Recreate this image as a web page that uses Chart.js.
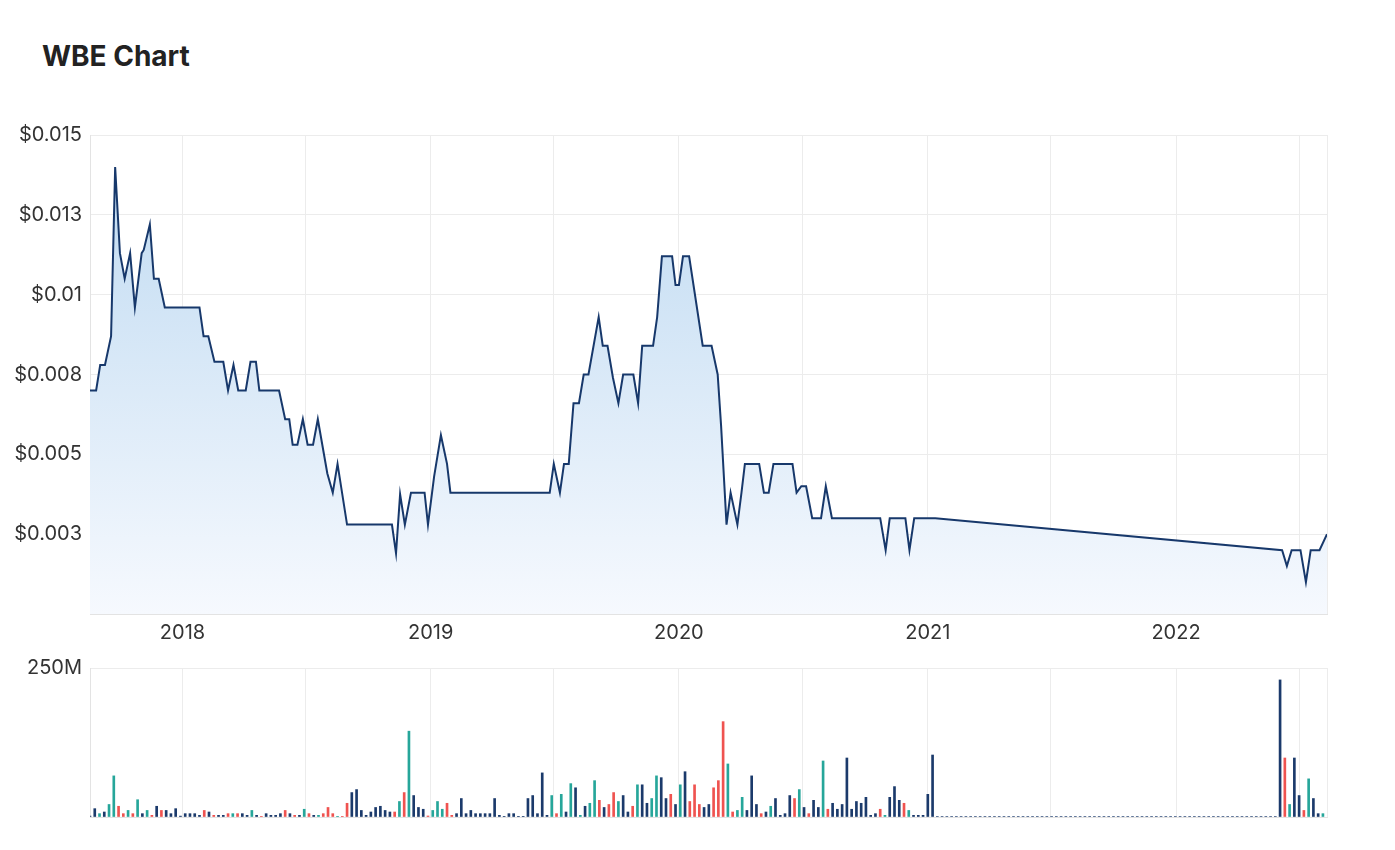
<!DOCTYPE html>
<html>
<head>
<meta charset="utf-8">
<title>WBE Chart</title>
<script src="https://cdn.jsdelivr.net/npm/chart.js@4.4.1/dist/chart.umd.min.js"></script>
<style>
  body { margin: 0; background: #fff; font-family: Inter, "Noto Sans", sans-serif; }
  .page { position: relative; width: 1395px; height: 850px; }
  .title { position: absolute; left: 42px; top: 42px; font-size: 28px; line-height: 28px; font-weight: 700; color: #222; }
  .priceBox { position: absolute; left: 0; top: 100px; }
  .volBox { position: absolute; left: 0; top: 640px; }
</style>
</head>
<body>
<div class="page">
  <div class="title">WBE Chart</div>
  <div class="priceBox"><canvas id="price" width="1395" height="560"></canvas></div>
  <div class="volBox"><canvas id="volume" width="1395" height="200"></canvas></div>
</div>
<script>
// weekly close, turning points
const priceDates = [
  '2017-08-18', '2017-08-27', '2017-09-02', '2017-09-09', '2017-09-18', '2017-09-24', '2017-10-01', '2017-10-08',
  '2017-10-16', '2017-10-23', '2017-11-02', '2017-11-05', '2017-11-14', '2017-11-20', '2017-11-27', '2017-12-06',
  '2018-01-26', '2018-02-01', '2018-02-08', '2018-02-17', '2018-03-02', '2018-03-09', '2018-03-17', '2018-03-24',
  '2018-04-04', '2018-04-11', '2018-04-19', '2018-04-24', '2018-05-23', '2018-06-01', '2018-06-07', '2018-06-12',
  '2018-06-19', '2018-06-27', '2018-07-04', '2018-07-12', '2018-07-19', '2018-08-02', '2018-08-10', '2018-08-17',
  '2018-08-31', '2018-11-05', '2018-11-11', '2018-11-17', '2018-11-24', '2018-12-03', '2018-12-23', '2018-12-28',
  '2019-01-06', '2019-01-16', '2019-01-25', '2019-01-30', '2019-06-25', '2019-07-01', '2019-07-10', '2019-07-16',
  '2019-07-23', '2019-07-30', '2019-08-07', '2019-08-14', '2019-08-21', '2019-09-05', '2019-09-11', '2019-09-18',
  '2019-09-26', '2019-10-04', '2019-10-11', '2019-10-26', '2019-11-02', '2019-11-08', '2019-11-24', '2019-11-30',
  '2019-12-07', '2019-12-22', '2019-12-27', '2020-01-01', '2020-01-07', '2020-01-16', '2020-02-05', '2020-02-18',
  '2020-02-27', '2020-03-03', '2020-03-11', '2020-03-17', '2020-03-27', '2020-04-02', '2020-04-07', '2020-04-28',
  '2020-05-05', '2020-05-12', '2020-05-19', '2020-06-16', '2020-06-22', '2020-06-29', '2020-07-06', '2020-07-15',
  '2020-07-28', '2020-08-04', '2020-08-13', '2020-10-23', '2020-10-31', '2020-11-06', '2020-11-29', '2020-12-05',
  '2020-12-12', '2021-01-12', '2022-06-06', '2022-06-13', '2022-06-20', '2022-07-03', '2022-07-11', '2022-07-18',
  '2022-07-31', '2022-08-11'
];
const priceValues = [
  0.0070, 0.0070, 0.0078, 0.0078, 0.0087, 0.0140, 0.0113, 0.0105,
  0.0113, 0.0096, 0.0113, 0.0114, 0.0122, 0.0105, 0.0105, 0.0096,
  0.0096, 0.0087, 0.0087, 0.0079, 0.0079, 0.0070, 0.0078, 0.0070,
  0.0070, 0.0079, 0.0079, 0.0070, 0.0070, 0.0061, 0.0061, 0.0053,
  0.0053, 0.0061, 0.0053, 0.0053, 0.0061, 0.0044, 0.0038, 0.0047,
  0.0028, 0.0028, 0.0019, 0.00375, 0.0028, 0.0038, 0.0038, 0.0028,
  0.0043, 0.0056, 0.0047, 0.0038, 0.0038, 0.0047, 0.0038, 0.0047,
  0.0047, 0.0066, 0.0066, 0.0075, 0.0075, 0.0093, 0.0084, 0.0084,
  0.0074, 0.0066, 0.0075, 0.0075, 0.0066, 0.0084, 0.0084, 0.0093,
  0.0112, 0.0112, 0.0103, 0.0103, 0.0112, 0.0112, 0.0084, 0.0084,
  0.0075, 0.0059, 0.0028, 0.0038, 0.0028, 0.0038, 0.0047, 0.0047,
  0.0038, 0.0038, 0.0047, 0.0047, 0.0038, 0.0040, 0.0040, 0.0030,
  0.0030, 0.0040, 0.0030, 0.0030, 0.0020, 0.0030, 0.0030, 0.0020,
  0.0030, 0.0030, 0.0020, 0.0015, 0.0020, 0.0020, 0.0010, 0.0020,
  0.0020, 0.0025
];

// weekly volume in millions, first bar week of 2017-08-18
const volumeStart = '2017-08-18';
const volumeValues = [
  1.7, 14, 5.6, 8.4, 21, 69, 18, 5.6, 11, 5.6,
  29, 5.6, 11, 2.8, 18, 11, 11, 5.6, 14, 1.5,
  5.6, 5.6, 5.6, 2.8, 11, 8.4, 2.8, 2.8, 2.8, 5.6,
  5.6, 5.6, 5.6, 2.8, 11, 2.8, 1.1, 5.6, 2.8, 2.8,
  5.6, 11, 5.6, 2.8, 2.8, 13, 5.6, 2.8, 2.8, 5.6,
  16, 5.6, 1.1, 1.1, 23, 41, 46, 11, 2.8, 8.4,
  16, 18, 11, 8.4, 8.4, 26, 41, 144, 36, 16,
  13, 1.7, 11, 26, 13, 23, 2.8, 5.6, 31, 5.6,
  11, 5.6, 5.6, 5.6, 5.6, 31, 2.8, 1.1, 5.6, 5.6,
  1.1, 1.1, 31, 36, 5.6, 74, 2.8, 36, 5.6, 38,
  8.4, 56, 49, 2.8, 18, 23, 61, 28, 16, 21,
  41, 26, 36, 8.4, 18, 54, 54, 23, 31,
  69, 66, 31, 38, 21, 54, 76, 26, 54, 21,
  16, 21, 49, 61, 160, 89, 8.4, 11, 33, 11,
  69, 21, 5.6, 8.4, 18, 31, 2.8, 5.6, 36, 31,
  46, 16, 5.6, 28, 16, 94, 13, 23, 13, 21,
  99, 13, 26, 23, 33, 2.8, 5.6, 13, 2.8, 33,
  51, 28, 23, 11, 2.8, 2.8, 2.8, 38, 104,
  0.8, 0.8, 0.8, 0.8, 0.8, 0.8, 0.8, 0.8, 0.8, 0.8, 0.8, 0.8,
  0.8, 0.8, 0.8, 0.8, 0.8, 0.8, 0.8, 0.8, 0.8, 0.8, 0.8, 0.8,
  0.8, 0.8, 0.8, 0.8, 0.8, 0.8, 0.8, 0.8, 0.8, 0.8, 0.8, 0.8,
  0.8, 0.8, 0.8, 0.8, 0.8, 0.8, 0.8, 0.8, 0.8, 0.8, 0.8, 0.8,
  0.8, 0.8, 0.8, 0.8, 0.8, 0.8, 0.8, 0.8, 0.8, 0.8, 0.8, 0.8,
  0.8, 0.8, 0.8, 0.8, 0.8, 0.8, 0.8, 0.8, 0.8, 0.8, 0.8, 0.8,
  230, 99, 21, 99, 36, 11, 64, 31, 5.6, 5.6
];
// n = unchanged, g = up, r = down
const volumeMoves = [
  'n','n','g','n','g','g','r','r','g','r',
  'g','n','g','r','n','r','n','n','n','n',
  'n','n','n','n','r','n','r','n','n','r',
  'g','r','n','n','g','n','r','n','n','n',
  'n','r','n','r','n','g','r','n','g','r',
  'r','r','g','r','r','n','n','n','n','n',
  'n','n','n','n','r','g','r','g','n','n',
  'n','r','g','g','g','r','r','n','n','n',
  'n','n','n','n','n','n','n','n','n','n',
  'n','n','n','n','n','n','n','g','r','g',
  'n','g','n','g','n','g','g','r','n','r',
  'r','g','n','n','r','g','n','n','g',
  'g','n','n','r','n','g','n','r','r','r',
  'n','n','r','r','r','g','r','g','g','n',
  'n','n','r','n','g','n','n','n','n','r',
  'g','n','r','n','n','g','r','n','n','n',
  'n','n','n','n','n','n','n','r','g','n',
  'n','n','r','g','n','n','n','n','n',
  'n','n','n','n','n','n','n','n','n','n','n','n',
  'n','n','n','n','n','n','n','n','n','n','n','n',
  'n','n','n','n','n','n','n','n','n','n','n','n',
  'n','n','n','n','n','n','n','n','n','n','n','n',
  'n','n','n','n','n','n','n','n','n','n','n','n',
  'n','n','n','n','n','n','n','n','n','n','n','n',
  'n','r','g','n','n','r','g','n','n','g'
];

const xMin = Date.parse('2017-08-18');
const xMax = Date.parse('2022-08-11');
const gridDates = [
  '2018-01-01', '2018-07-01', '2019-01-01', '2019-07-01', '2020-01-01',
  '2020-07-01', '2021-01-01', '2021-07-01', '2022-01-01', '2022-07-01'
];
const priceTicks = [0, 0.0025, 0.005, 0.0075, 0.01, 0.0125, 0.015];

const moveColors = { n: '#1b3a6b', g: '#26a69a', r: '#ef5350' };
const gridColor = '#ececec';
const tickFont = { family: 'Inter', size: 20 };
const DAY = 86400000;

function dateTicks(scale) {
  const t = gridDates.map(d => ({ value: Date.parse(d) }));
  t.push({ value: xMax });
  scale.ticks = t;
}

function yearLabel(value) {
  const d = new Date(value);
  if (value !== xMax && d.getUTCMonth() === 0) return String(d.getUTCFullYear());
  return '';
}

const pricePoints = priceDates.map((d, i) => ({ x: Date.parse(d), y: priceValues[i] }));

new Chart(document.getElementById('price'), {
  type: 'line',
  data: {
    datasets: [{
      data: pricePoints,
      borderColor: '#17386b',
      borderWidth: 2,
      pointRadius: 0,
      tension: 0,
      fill: 'origin',
      backgroundColor: (ctx) => {
        const area = ctx.chart.chartArea;
        if (!area) return 'rgba(190,217,240,0.6)';
        const g = ctx.chart.ctx.createLinearGradient(0, area.top, 0, area.bottom);
        g.addColorStop(0, '#bdd9f1');
        g.addColorStop(1, '#f6f9fe');
        return g;
      },
    }],
  },
  options: {
    responsive: false,
    animation: false,
    layout: { padding: { top: 35, right: 68, bottom: 6, left: 0 } },
    plugins: { legend: { display: false }, tooltip: { enabled: false } },
    scales: {
      x: {
        type: 'linear',
        min: xMin,
        max: xMax,
        afterBuildTicks: dateTicks,
        afterFit: (s) => { s.height = 40; },
        grid: { color: gridColor, drawTicks: false },
        border: { color: '#e3e3e3' },
        ticks: { callback: yearLabel, font: tickFont, color: '#333', padding: 7, maxRotation: 0, autoSkip: false },
      },
      y: {
        min: 0,
        max: 0.015,
        afterBuildTicks: (s) => { s.ticks = priceTicks.map(v => ({ value: v })); },
        afterFit: (s) => { s.width = 90; },
        grid: { color: gridColor, drawTicks: false },
        border: { color: '#e3e3e3' },
        ticks: {
          font: tickFont,
          color: '#333',
          padding: 8,
          callback: (v) => v === 0 ? '' : '$' + Math.round(v * 1000 + 1e-9) / 1000,
        },
      },
    },
  },
});

const volumeBars = volumeValues.map((v, i) => ({ x: Date.parse(volumeStart) + i * 7 * DAY, y: v }));

new Chart(document.getElementById('volume'), {
  type: 'bar',
  data: {
    datasets: [{
      data: volumeBars,
      backgroundColor: volumeMoves.map(m => moveColors[m]),
      barThickness: 2,
    }],
  },
  options: {
    responsive: false,
    animation: false,
    layout: { padding: { top: 28, right: 68, bottom: 23, left: 0 } },
    plugins: { legend: { display: false }, tooltip: { enabled: false } },
    scales: {
      x: {
        type: 'linear',
        min: xMin,
        max: xMax,
        offset: false,
        afterBuildTicks: dateTicks,
        afterFit: (s) => { s.height = 0; },
        grid: { color: gridColor, drawTicks: false, offset: false },
        border: { color: '#e3e3e3' },
        ticks: { display: false },
      },
      y: {
        min: 0,
        max: 250,
        afterBuildTicks: (s) => { s.ticks = [{ value: 0 }, { value: 250 }]; },
        afterFit: (s) => { s.width = 90; },
        grid: { color: gridColor, drawTicks: false },
        border: { color: '#e3e3e3' },
        ticks: { font: tickFont, color: '#333', padding: 8, callback: (v) => v === 250 ? '250M' : '' },
      },
    },
  },
});
</script>
</body>
</html>
